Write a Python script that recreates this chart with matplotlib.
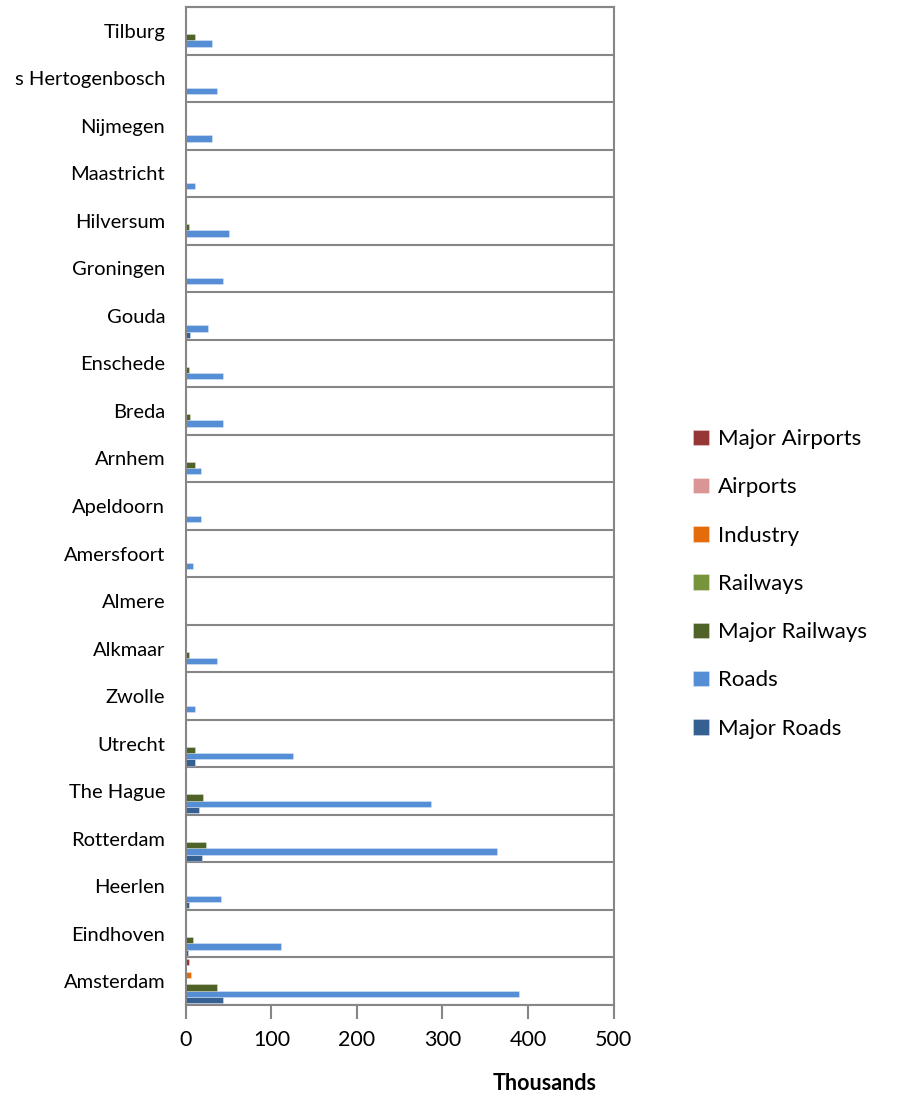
import matplotlib

matplotlib.use("Agg")
import matplotlib.pyplot as plt
import numpy as np

plt.rcParams["font.family"] = ["Lato", "DejaVu Sans"]

cities = ["Amsterdam", "Eindhoven", "Heerlen", "Rotterdam", "The Hague", "Utrecht",
          "Zwolle", "Alkmaar", "Almere", "Amersfoort", "Apeldoorn", "Arnhem", "Breda",
          "Enschede", "Gouda", "Groningen", "Hilversum", "Maastricht", "Nijmegen",
          "s Hertogenbosch", "Tilburg"]

# values in thousands, bottom-to-top city order
major_roads = [43, 2, 3, 19, 15, 10, 0, 0, 0, 0, 0, 0, 0, 0, 5, 0, 0, 0, 0, 0, 0]
roads = [389, 111, 41, 364, 286, 125, 10, 36, 0, 8, 17, 17, 43, 43, 26, 43, 50, 10, 31, 36, 31]
major_railways = [36, 8, 0, 24, 20, 10, 0, 3, 0, 0, 0, 10, 5, 3, 0, 0, 3, 0, 0, 0, 10]
railways = [0] * 21
industry = [6] + [0] * 20
airports = [0] * 21
major_airports = [3] + [0] * 20

series = [
    ("Major Roads", major_roads, "#376092"),
    ("Roads", roads, "#558ED5"),
    ("Major Railways", major_railways, "#4F6228"),
    ("Railways", railways, "#77933C"),
    ("Industry", industry, "#E46C0A"),
    ("Airports", airports, "#D99694"),
    ("Major Airports", major_airports, "#953735"),
]

fig = plt.figure(figsize=(8.98, 10.98), dpi=100)
ax = fig.add_axes([0.2071, 0.0847, 0.4761, 0.9089])

y = np.arange(len(cities))
h = 1 / 7.5
handles = []
for k, (name, vals, col) in enumerate(series):
    b = ax.barh(y + (k - 3) * h, vals, height=h, color=col,
                edgecolor=(1, 1, 1, 0.35), linewidth=0.6, label=name)
    handles.append(b)

ax.set_xlim(0, 500)
ax.set_ylim(-0.5, len(cities) - 0.5)
ax.set_xticks(np.arange(0, 501, 100))
ax.set_yticks(y)
ax.set_yticklabels(cities, fontsize=14.5)
ax.set_yticks(np.arange(-0.5, len(cities), 1), minor=True)
ax.tick_params(axis="y", which="both", length=0, pad=15)
ax.tick_params(axis="x", length=10, width=1.5, color="#868686", labelsize=15.5, pad=8)
ax.grid(which="minor", axis="y", color="#868686", linewidth=1.5)
ax.set_axisbelow(True)
for s in ax.spines.values():
    s.set_color("#868686")
    s.set_linewidth(1.5)

fig.text(0.606, 0.004, "Thousands", fontsize=15.5, fontweight="bold", ha="center", va="bottom")

leg = ax.legend(handles[::-1], [s[0] for s in series[::-1]], loc="center left",
                bbox_to_anchor=(1.14, 0.422), frameon=False, fontsize=16,
                handlelength=0.7, handleheight=0.7, handletextpad=0.4, labelspacing=1.27)

fig.savefig("out.png", dpi=100)
